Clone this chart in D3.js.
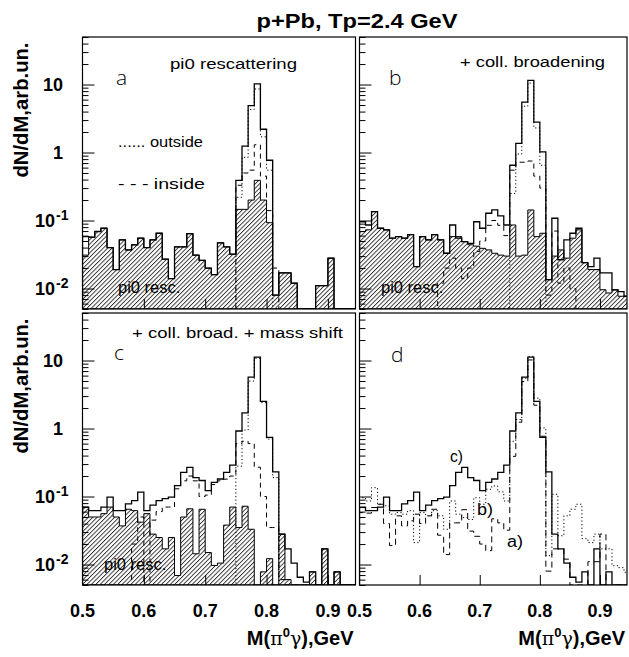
<!DOCTYPE html>
<html><head><meta charset="utf-8">
<script src="https://cdn.jsdelivr.net/npm/d3@7"></script>
<style>body{margin:0;background:#fff}svg{display:block}</style>
</head><body>
<svg id="c" width="629" height="657"></svg>
<script>
// ---------- DATA ----------
const binWidth = 0.01;
const massBins = [0.50,0.51,0.52,0.53,0.54,0.55,0.56,0.57,0.58,0.59,
                  0.60,0.61,0.62,0.63,0.64,0.65,0.66,0.67,0.68,0.69,
                  0.70,0.71,0.72,0.73,0.74,0.75,0.76,0.77,0.78,0.79,
                  0.80,0.81,0.82,0.83,0.84,0.85,0.86,0.87,0.88,0.89,
                  0.90,0.91,0.92,0.93,0.94];
const xTickValues = [0.5,0.6,0.7,0.8,0.9];
const xTickLabels = ["0.5","0.6","0.7","0.8","0.9"];
const yMajorTicks = [0.01,0.1,1,10];
const yMinorTicks = [0.005,0.006,0.007,0.008,0.009,0.02,0.03,0.04,0.05,0.06,0.07,0.08,0.09,
                     0.2,0.3,0.4,0.5,0.6,0.7,0.8,0.9,2,3,4,5,6,7,8,9,20,30,40,50];
const yTickLabels = [{v:10,base:"10",exp:""},{v:1,base:"1",exp:""},{v:0.1,base:"10",exp:"-1"},{v:0.01,base:"10",exp:"-2"}];

// panel a : pi0 rescattering
const aResc  = [0.031,0.057,0.069,0.077,0.040,0.019,0.052,0.037,0.044,0.055,
                0.040,0.052,0.065,0.027,0.014,0.041,0.041,0.064,0.031,0.026,
                0.020,0.016,0.047,0.041,0.032,0.146,0.146,0.20,0.39,0.20,
                0.093,0.008,0.017,0.017,0.012,0,0,0,0.011,0.011,
                0.028,0,0,0,0];
const aTotal = [0.058,0.057,0.069,0.077,0.040,0.019,0.052,0.037,0.044,0.055,
                0.040,0.052,0.065,0.027,0.014,0.041,0.041,0.064,0.031,0.026,
                0.020,0.016,0.047,0.041,0.032,0.39,1.24,4.9,10.2,2.2,
                0.77,0.008,0.017,0.017,0.012,0,0,0,0.011,0.011,
                0.028,0,0,0,0];
const aOut   = [0,0,0,0,0,0,0,0,0,0, 0,0,0,0,0,0,0,0,0,0,
                0,0,0,0,0,0.22,0.85,4.3,8.6,1.7, 0.55,0,0,0,0,0,0,0,0,0, 0,0,0,0,0];
const aIn    = [0,0,0,0,0,0,0,0,0,0, 0,0,0,0,0,0,0,0,0,0,
                0,0,0,0,0,0.33,0.5,0.55,1.3,0.45, 0.14,0.02,0,0,0,0,0,0,0,0, 0,0,0,0,0];

// panel b : + collisional broadening
const bResc  = [0.069,0.073,0.135,0.077,0.073,0.055,0.058,0.055,0.062,0.021,
                0.058,0.052,0.062,0.052,0.033,0.058,0.058,0.049,0.044,0.042,
                0.039,0.037,0.033,0.031,0.030,0.086,0.030,0.031,0.143,0.058,
                0.065,0.0135,0.030,0.037,0.028,0.055,0.073,0.024,0.019,0.019,
                0.0096,0.0086,0.0096,0.0077,0.0077];
const bTotal = [0.096,0.086,0.135,0.077,0.073,0.055,0.058,0.055,0.062,0.021,
                0.058,0.052,0.062,0.052,0.033,0.086,0.055,0.049,0.046,0.096,
                0.077,0.128,0.143,0.117,0.086,0.65,1.36,5.5,11.5,2.8,
                1.02,0.0135,0.108,0.0265,0.052,0.065,0.077,0.024,0.021,0.028,
                0.017,0.017,0.0096,0.009,0.0077];
const bOut   = [0,0,0,0,0,0,0,0,0,0, 0,0,0,0,0,0,0,0,0,0,
                0,0,0,0,0,0.25,0.95,4.8,10.5,2.3, 0.65,0,0,0,0,0,0,0,0,0, 0,0,0,0,0];
const bIn    = [0,0,0,0,0,0,0,0,0,0, 0,0,0,0.012,0.02,0.028,0.02,0.014,0.02,0.035,
                0.05,0.085,0.10,0.085,0.06,0.55,0.72,0.72,0.75,0.45,
                0.30,0.008,0.07,0.012,0.02,0.01,0,0,0,0, 0,0,0,0,0];

// panel c : + coll. broad. + mass shift
const cResc  = [0.070,0.050,0.050,0.056,0.070,0.050,0.037,0.065,0.062,0.042,
                0.056,0.028,0.025,0.017,0.025,0.0069,0.050,0.066,0.0144,0.065,
                0.015,0.0097,0.0105,0.038,0.070,0.035,0.072,0.033,0,0.0078,
                0.0122,0,0.028,0.006,0,0,0,0.0078,0,0.017,
                0,0.0078,0,0,0];
const cTotal = [0.070,0.062,0.062,0.070,0.098,0.062,0.062,0.078,0.087,0.116,
                0.062,0.075,0.087,0.093,0.098,0.145,0.227,0.268,0.19,0.172,
                0.122,0.162,0.181,0.227,0.29,0.92,1.7,5.7,11.2,2.5,
                0.74,0.23,0.028,0.017,0.0105,0.0065,0.0055,0.0078,0,0.017,
                0,0.0078,0,0,0];
const cOut   = [0,0,0,0,0,0,0,0,0,0, 0,0,0,0,0,0,0,0,0,0,
                0,0,0,0,0,0.28,0.95,5.0,10.8,2.4, 0.7,0.19,0,0,0,0,0,0,0,0, 0,0,0,0,0];
const cIn    = [0,0,0,0,0,0,0,0,0.02,0.05, 0.005,0.045,0.06,0.07,0.07,0.13,0.17,0.20,0.17,0.10,
                0.105,0.15,0.17,0.18,0.20,0.6,0.65,0.6,0.27,0.10,
                0.035,0.035,0.006,0,0,0,0,0,0,0, 0,0,0,0,0];

// ---------- DRAW ----------
const svg = d3.select("#c");
const defs = svg.append("defs");
defs.append("pattern").attr("id","hatch").attr("patternUnits","userSpaceOnUse")
  .attr("width",3.1).attr("height",3.1).attr("patternTransform","rotate(45)")
  .append("line").attr("x1",0.5).attr("y1",0).attr("x2",0.5).attr("y2",3.1)
  .attr("stroke","#000").attr("stroke-width",0.75);

const SANS = "'Liberation Sans', Arial, Helvetica, sans-serif";
const panels = [
  {key:"a", x:[82.5,355.5], y:[309,37], letter:"a", lx:116, ly:85, yLabels:true, xLabels:false},
  {key:"b", x:[359.5,627], y:[309,37], letter:"b", lx:389, ly:85, yLabels:false, xLabels:false},
  {key:"c", x:[82.5,355.5], y:[585,313], letter:"c", lx:114, ly:360, yLabels:true, xLabels:true},
  {key:"d", x:[359.5,627], y:[585,313], letter:"d", lx:391, ly:362, yLabels:false, xLabels:true}
];

function stepPts(vals, xs, ys){
  const yb = ys.range()[0];
  const pts = [];
  vals.forEach((v,i)=>{
    const x0 = xs(massBins[i]), x1 = xs(massBins[i]+binWidth);
    const yy = v>0 ? Math.min(yb, ys(v)) : yb;
    if(i===0) pts.push([x0,yb]);
    pts.push([x0,yy],[x1,yy]);
  });
  pts.push([xs(massBins[massBins.length-1]+binWidth), yb]);
  return pts;
}
const line = d3.line();

panels.forEach(p=>{
  const xs = d3.scaleLinear().domain([0.5,0.945]).range(p.x);
  const ys = d3.scaleLog().domain([0.005,50]).range(p.y);
  const g = svg.append("g");
  const cid = "clip"+p.key;
  defs.append("clipPath").attr("id",cid).append("rect")
    .attr("x",p.x[0]).attr("y",p.y[1]).attr("width",p.x[1]-p.x[0]).attr("height",p.y[0]-p.y[1]);
  const plot = g.append("g").attr("clip-path",`url(#${cid})`);

  if(p.key!=="d"){
    const prx = p.key==="a"?118:(p.key==="b"?381:104);
    const pry = p.key==="c"?570:293;
    g.append("text").attr("x",prx).attr("y",pry).attr("font-family",SANS).attr("font-size",16.5)
      .text("pi0 resc.");
  }

  if(p.key==="a"||p.key==="b"||p.key==="c"){
    const D = {a:[aResc,aTotal,aOut,aIn], b:[bResc,bTotal,bOut,bIn], c:[cResc,cTotal,cOut,cIn]}[p.key];
    plot.append("path").attr("d", line(stepPts(D[0],xs,ys))+"Z")
      .attr("fill","url(#hatch)").attr("stroke","#000").attr("stroke-width",1);
    plot.append("path").attr("d", line(stepPts(D[3],xs,ys)))
      .attr("fill","none").attr("stroke","#000").attr("stroke-width",1).attr("stroke-dasharray","5,4");
    plot.append("path").attr("d", line(stepPts(D[2],xs,ys)))
      .attr("fill","none").attr("stroke","#000").attr("stroke-width",1).attr("stroke-dasharray","1.2,2.4");
    plot.append("path").attr("d", line(stepPts(D[1],xs,ys)))
      .attr("fill","none").attr("stroke","#000").attr("stroke-width",1.3);
  } else {
    plot.append("path").attr("d", line(stepPts(aTotal,xs,ys)))
      .attr("fill","none").attr("stroke","#000").attr("stroke-width",1).attr("stroke-dasharray","6,4");
    plot.append("path").attr("d", line(stepPts(bTotal,xs,ys)))
      .attr("fill","none").attr("stroke","#000").attr("stroke-width",1).attr("stroke-dasharray","1.2,2.4");
    plot.append("path").attr("d", line(stepPts(cTotal,xs,ys)))
      .attr("fill","none").attr("stroke","#000").attr("stroke-width",1.3);
  }

  g.append("rect").attr("x",p.x[0]).attr("y",p.y[1]).attr("width",p.x[1]-p.x[0]).attr("height",p.y[0]-p.y[1])
    .attr("fill","none").attr("stroke","#000").attr("stroke-width",1.2);

  const yMaj = d3.axisRight(ys).tickValues(yMajorTicks).tickSize(12).tickFormat("");
  const yMin = d3.axisRight(ys).tickValues(yMinorTicks).tickSize(6).tickFormat("");
  [yMaj,yMin].forEach(ax=>{
    const a = g.append("g").attr("transform",`translate(${p.x[0]},0)`).call(ax);
    a.select(".domain").remove();
    a.selectAll("line").attr("stroke-width",1);
  });
  const xAx = d3.axisTop(xs).tickValues(xTickValues.slice(1)).tickSize(10).tickFormat("");
  const xa = g.append("g").attr("transform",`translate(0,${p.y[0]})`).call(xAx);
  xa.select(".domain").remove();
  xa.selectAll("line").attr("stroke-width",1);

  if(p.yLabels){
    yTickLabels.forEach(t=>{
      const yy = ys(t.v);
      if(t.exp===""){
        g.append("text").attr("x",63).attr("y",yy+6.5).attr("text-anchor","end")
          .attr("font-family",SANS).attr("font-weight","bold").attr("font-size",18).text(t.base);
      } else {
        g.append("text").attr("x",55).attr("y",yy+6.5).attr("text-anchor","end")
          .attr("font-family",SANS).attr("font-weight","bold").attr("font-size",18).text(t.base);
        g.append("text").attr("x",56).attr("y",yy-1).attr("text-anchor","start")
          .attr("font-family",SANS).attr("font-weight","bold").attr("font-size",14).text(t.exp);
      }
    });
    g.append("text").attr("transform",`translate(27.5,${(p.y[0]+p.y[1])/2-63}) rotate(-90)`)
      .attr("text-anchor","middle").attr("font-family",SANS).attr("font-weight","bold")
      .attr("font-size",20).attr("textLength",135).attr("lengthAdjust","spacingAndGlyphs")
      .text("dN/dM,arb.un.");
  }
  if(p.xLabels){
    xTickValues.forEach((v,i)=>{
      g.append("text").attr("x",xs(v)).attr("y",617).attr("text-anchor","middle")
        .attr("font-family",SANS).attr("font-weight","bold").attr("font-size",18).text(xTickLabels[i]);
    });
    const t = g.append("text").attr("x",p.x[1]-2).attr("y",645).attr("text-anchor","end")
      .attr("font-family",SANS).attr("font-weight","bold").attr("font-size",20);
    t.append("tspan").text("M(");
    t.append("tspan").attr("font-weight","normal").attr("font-family","'DejaVu Serif', serif").attr("font-size",19).text("π");
    t.append("tspan").attr("font-size",13).attr("dy",-8).text("0");
    t.append("tspan").attr("dy",8).attr("font-weight","normal").attr("font-family","'DejaVu Serif', serif").attr("font-size",19).text("γ");
    t.append("tspan").text("),GeV");
  }
  g.append("text").attr("x",p.lx).attr("y",p.ly).attr("font-family","'Open Sans', 'DejaVu Sans', sans-serif")
    .attr("font-weight",300).attr("font-size",21).text(p.letter);
});

function ann(x,y,txt,len,size){
  svg.append("text").attr("x",x).attr("y",y).attr("font-family",SANS).attr("font-size",size||15.5)
    .attr("textLength",len).attr("lengthAdjust","spacingAndGlyphs").text(txt);
}
ann(170,69,"pi0 rescattering",127);
ann(460,67,"+ coll. broadening",145);
ann(132,338,"+ coll. broad. + mass shift",211);
ann(118,147,"...... outside",85);
ann(118,189,"- - -  inside",87);
ann(450,462,"c)",13,16);
ann(477,515,"b)",16,16);
ann(507,547,"a)",16,16);

svg.append("text").attr("x",357).attr("y",28).attr("text-anchor","middle").attr("font-family",SANS)
  .attr("font-weight","bold").attr("font-size",20).attr("textLength",201).attr("lengthAdjust","spacingAndGlyphs")
  .text("p+Pb, Tp=2.4 GeV");
</script>
</body></html>
